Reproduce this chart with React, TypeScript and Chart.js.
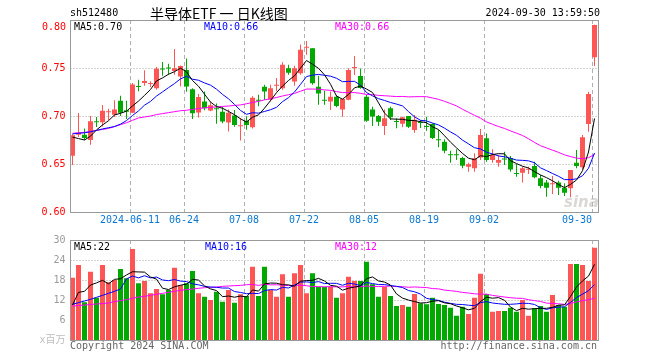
import React, { useEffect, useRef } from 'react';
import { Chart, registerables } from 'chart.js';
Chart.register(...registerables);

const dates = [
  '2024-05-27','2024-05-28','2024-05-29','2024-05-30','2024-05-31','2024-06-03','2024-06-04','2024-06-05','2024-06-06','2024-06-07',
  '2024-06-11','2024-06-12','2024-06-13','2024-06-14','2024-06-17','2024-06-18','2024-06-19','2024-06-20','2024-06-21','2024-06-24',
  '2024-06-25','2024-06-26','2024-06-27','2024-06-28','2024-07-01','2024-07-02','2024-07-03','2024-07-04','2024-07-05','2024-07-08',
  '2024-07-09','2024-07-10','2024-07-11','2024-07-12','2024-07-15','2024-07-16','2024-07-17','2024-07-18','2024-07-19','2024-07-22',
  '2024-07-23','2024-07-24','2024-07-25','2024-07-26','2024-07-29','2024-07-30','2024-07-31','2024-08-01','2024-08-02','2024-08-05',
  '2024-08-06','2024-08-07','2024-08-08','2024-08-09','2024-08-12','2024-08-13','2024-08-14','2024-08-15','2024-08-16','2024-08-19',
  '2024-08-20','2024-08-21','2024-08-22','2024-08-23','2024-08-26','2024-08-27','2024-08-28','2024-08-29','2024-08-30','2024-09-02',
  '2024-09-03','2024-09-04','2024-09-05','2024-09-06','2024-09-09','2024-09-10','2024-09-11','2024-09-12','2024-09-13','2024-09-18',
  '2024-09-19','2024-09-20','2024-09-23','2024-09-24','2024-09-25','2024-09-26','2024-09-27','2024-09-30'
];

const opens = [
  0.6585,0.6805,0.6805,0.6750,0.6945,0.6935,0.7040,0.7012,0.7158,0.7060,
  0.7035,0.7312,0.7345,0.7333,0.7290,0.7494,0.7505,0.7468,0.7412,0.7480,
  0.7278,0.7036,0.7150,0.7058,0.7080,0.7045,0.6932,0.7005,0.6892,0.6951,
  0.6884,0.7167,0.7304,0.7172,0.7316,0.7290,0.7498,0.7360,0.7446,0.7710,
  0.7706,0.7304,0.7166,0.7150,0.7201,0.7068,0.7170,0.7500,0.7417,0.7201,
  0.7069,0.7000,0.6896,0.7080,0.6944,0.6918,0.7000,0.6854,0.6934,0.6892,
  0.6917,0.6754,0.6733,0.6597,0.6597,0.6562,0.6472,0.6455,0.6569,0.6767,
  0.6542,0.6514,0.6552,0.6559,0.6398,0.6410,0.6441,0.6479,0.6351,0.6306,
  0.6288,0.6306,0.6253,0.6247,0.6514,0.6465,0.6917,0.7611
];
const closes = [
  0.6800,0.6825,0.6770,0.6945,0.6935,0.7055,0.7050,0.7068,0.7033,0.7045,
  0.7328,0.7302,0.7365,0.7340,0.7492,0.7484,0.7494,0.7498,0.7522,0.7306,
  0.7028,0.7198,0.7082,0.7112,0.7070,0.6942,0.7035,0.6907,0.6898,0.6905,
  0.7190,0.7160,0.7255,0.7290,0.7322,0.7533,0.7450,0.7498,0.7690,0.7718,
  0.7342,0.7234,0.7160,0.7201,0.7104,0.7176,0.7479,0.7508,0.7292,0.6950,
  0.6996,0.6940,0.6976,0.6986,0.6938,0.6986,0.6889,0.6962,0.6928,0.6886,
  0.6772,0.6748,0.6639,0.6592,0.6590,0.6483,0.6498,0.6559,0.6802,0.6542,
  0.6594,0.6542,0.6548,0.6444,0.6396,0.6455,0.6448,0.6361,0.6271,0.6253,
  0.6294,0.6253,0.6201,0.6438,0.6479,0.6778,0.7229,0.7948
];
const highs = [
  0.6810,0.7030,0.6870,0.7000,0.6990,0.7115,0.7075,0.7165,0.7210,0.7160,
  0.7344,0.7378,0.7476,0.7362,0.7510,0.7563,0.7545,0.7698,0.7525,0.7600,
  0.7290,0.7228,0.7255,0.7149,0.7130,0.7097,0.7068,0.7063,0.6980,0.6997,
  0.7205,0.7222,0.7326,0.7326,0.7396,0.7559,0.7535,0.7524,0.7745,0.7780,
  0.7706,0.7420,0.7264,0.7254,0.7215,0.7180,0.7497,0.7625,0.7494,0.7220,
  0.7097,0.7010,0.7069,0.7097,0.6976,0.6993,0.7000,0.7010,0.6958,0.6993,
  0.6924,0.6854,0.6757,0.6639,0.6653,0.6576,0.6514,0.6611,0.6865,0.6819,
  0.6653,0.6594,0.6628,0.6583,0.6500,0.6472,0.6472,0.6524,0.6385,0.6333,
  0.6375,0.6326,0.6299,0.6438,0.6646,0.6802,0.7253,0.7950
];
const lows = [
  0.6490,0.6780,0.6750,0.6700,0.6885,0.6890,0.6955,0.6990,0.7000,0.6970,
  0.7030,0.7257,0.7315,0.7302,0.7274,0.7420,0.7430,0.7430,0.7306,0.7253,
  0.6969,0.6985,0.7060,0.7050,0.6918,0.6924,0.6838,0.6889,0.6745,0.6858,
  0.6870,0.7101,0.7170,0.7150,0.7257,0.7274,0.7430,0.7316,0.7430,0.7637,
  0.7325,0.7118,0.7116,0.7063,0.7090,0.6993,0.7165,0.7427,0.7285,0.6940,
  0.6896,0.6896,0.6802,0.6958,0.6872,0.6882,0.6875,0.6826,0.6875,0.6847,
  0.6760,0.6674,0.6611,0.6514,0.6542,0.6455,0.6420,0.6420,0.6542,0.6524,
  0.6514,0.6472,0.6490,0.6420,0.6368,0.6306,0.6396,0.6351,0.6247,0.6160,
  0.6187,0.6177,0.6167,0.6153,0.6455,0.6444,0.6837,0.7521
];
// volume, in millions
const volumes = [
  18.7,22.5,11.3,20.5,12.7,22.5,17.3,18.0,21.3,18.5,
  27.3,17.0,17.7,14.0,15.3,13.7,15.0,21.7,16.5,17.0,
  20.7,14.0,13.0,12.0,14.5,11.5,15.0,11.2,13.7,13.2,
  22.0,13.2,22.0,15.0,13.0,19.7,13.0,20.0,22.5,14.0,
  20.0,16.0,16.0,16.0,12.7,14.0,19.0,17.7,17.7,23.5,
  16.7,13.0,16.0,13.2,10.2,10.5,10.0,13.8,11.0,10.7,
  12.7,10.8,10.5,9.7,7.3,10.0,7.8,12.7,19.9,13.8,
  8.5,8.7,8.7,9.7,8.5,12.0,7.3,9.5,10.2,8.5,
  13.5,10.5,10.0,22.8,22.8,22.5,17.7,27.7
];

// moving-average values at the left edge (history before the window)
const ma5Head = [0.678, 0.6765, 0.675, 0.679];
const ma10Head = [0.6813, 0.682, 0.6825, 0.6835, 0.685, 0.6865, 0.6878, 0.689, 0.6915];
const ma30Head = [
  0.682, 0.6825, 0.683, 0.684, 0.685, 0.686, 0.687, 0.689, 0.691, 0.693,
  0.6955, 0.698, 0.699, 0.700, 0.7015, 0.7025, 0.7035, 0.7045, 0.7055, 0.706,
  0.7068, 0.7078, 0.7085, 0.709, 0.7095, 0.710, 0.7104, 0.711, 0.7115
];
const vma5Head = [10.5, 14.3, 14.6, 16.5];
const vma10Head = [10.7, 11.2, 11.7, 12.2, 12.8, 13.4, 14.0, 14.6, 15.3];
const vma30Head = [
  10.2, 10.35, 10.5, 10.65, 10.8, 10.95, 11.1, 11.5, 11.8, 12.1,
  12.5, 12.9, 13.1, 13.4, 13.7, 14.0, 14.3, 14.6, 14.9, 15.1,
  15.3, 15.5, 15.7, 15.8, 15.9, 16.1, 16.2, 16.3, 16.4
];

const priceTicks = [0.6, 0.65, 0.7, 0.75, 0.8];
const priceGrid = [0.65, 0.7, 0.75];
const volumeTicks = [0, 6, 12, 18, 24, 30];
const volumeGrid = [6, 12, 18, 24];
const gridDates = ['2024-06-11','2024-06-24','2024-07-08','2024-07-22','2024-08-05','2024-08-19','2024-09-02','2024-09-30'];
const gridDateLabels = ['2024-06-11','06-24','07-08','07-22','08-05','08-19','09-02','09-30'];
const priceLegend = ['MA5:0.70', 'MA10:0.66', 'MA30:0.66'];
const volumeLegend = ['MA5:22', 'MA10:16', 'MA30:12'];

const RED = '#ff5555';
const GREEN = '#00a800';
const MONO = '"DejaVu Sans Mono", monospace';

function movingAverage(values: number[], n: number, head: number[]) {
  return values.map((_, i) => {
    if (i < n - 1) return head[i];
    let s = 0;
    for (let k = i - n + 1; k <= i; k++) s += values[k];
    return s / n;
  });
}

const framePlugin = {
  id: 'frame',
  beforeDatasetsDraw(chart: any, _a: any, opts: any) {
    const { ctx, chartArea: a } = chart;
    const xs = chart.scales.x;
    const ys = chart.scales.y;
    ctx.save();
    ctx.lineWidth = 1;
    ctx.strokeStyle = '#a8a8a8';
    ctx.setLineDash([1, 2]);
    for (const v of opts.hLines) {
      const y = Math.round(ys.getPixelForValue(v)) + 0.5;
      ctx.beginPath();
      ctx.moveTo(a.left + 1, y);
      ctx.lineTo(a.right, y);
      ctx.stroke();
    }
    ctx.setLineDash([4, 3]);
    ctx.strokeStyle = '#b0b0b0';
    for (const d of gridDates) {
      const i = dates.indexOf(d);
      const x = Math.round(xs.getPixelForValue(i) - 2.5) + 0.5;
      ctx.beginPath();
      ctx.moveTo(x, a.top);
      ctx.lineTo(x, a.bottom);
      ctx.stroke();
    }
    ctx.restore();
  },
  afterDraw(chart: any, _a: any, opts: any) {
    const { ctx, chartArea: a } = chart;
    const xs = chart.scales.x;
    ctx.save();
    ctx.setLineDash([]);
    ctx.lineWidth = 1;
    ctx.strokeStyle = '#9a9a9a';
    ctx.strokeRect(a.left + 1, a.top + 0.5, a.right - a.left, a.bottom - a.top);
    if (opts.xLabels) {
      ctx.font = '10px ' + MONO;
      ctx.fillStyle = '#0a78d2';
      ctx.textBaseline = 'middle';
      gridDates.forEach((d, k) => {
        const i = dates.indexOf(d);
        const x = Math.round(xs.getPixelForValue(i) - 2.5);
        const last = k === gridDates.length - 1;
        ctx.textAlign = last ? 'right' : 'center';
        ctx.fillText(gridDateLabels[k], x, a.bottom + 8);
      });
    }
    ctx.restore();
  }
};

const colors = closes.map((c, i) => (c >= opens[i] ? RED : GREEN));

function baseOptions(padTop: number, padBottom: number) {
  return {
    animation: false as const,
    responsive: false,
    events: [] as any[],
    layout: { padding: { left: 0, right: 62.5, top: padTop, bottom: padBottom } },
  };
}

function priceConfig(): any {
  const ma5 = movingAverage(closes, 5, ma5Head);
  const ma10 = movingAverage(closes, 10, ma10Head);
  const ma30 = movingAverage(closes, 30, ma30Head);
  const wicks = lows.map((l, i) => [l, highs[i]]);
  const bodies = opens.map((o, i) => [Math.min(o, closes[i]), Math.max(o, closes[i])]);
  const line = (data: number[], color: string) => ({
    type: 'line', data, borderColor: color, borderWidth: 1, pointRadius: 0, tension: 0, order: 0,
  });
  return {
    type: 'bar',
    data: {
      labels: dates,
      datasets: [
        line(ma5, '#000000'),
        line(ma10, '#0000ff'),
        line(ma30, '#ff00ff'),
        { type: 'bar', data: wicks, backgroundColor: colors, barThickness: 1, grouped: false, inflateAmount: 0, order: 2 },
        { type: 'bar', data: bodies, backgroundColor: colors, barThickness: 5, grouped: false, inflateAmount: 0, minBarLength: 1, order: 1 },
      ],
    },
    options: {
      ...baseOptions(20, 148),
      plugins: { legend: { display: false }, tooltip: { enabled: false }, frame: { hLines: priceGrid, xLabels: true } },
      scales: {
        x: { display: false, offset: true },
        y: {
          min: 0.6, max: 0.8,
          afterBuildTicks: (s: any) => { s.ticks = priceTicks.map((v) => ({ value: v })); },
          afterFit: (s: any) => { s.width = 69.5; },
          grid: { display: false, drawTicks: false },
          border: { display: false },
          ticks: {
            color: '#ff0000', padding: 4, font: { family: MONO, size: 10 },
            callback: (v: number) => (Math.abs(v - 0.8) < 1e-6 ? '' : v.toFixed(2)),
          },
        },
      },
    },
    plugins: [framePlugin],
  };
}

function volumeConfig(): any {
  const v5 = movingAverage(volumes, 5, vma5Head);
  const v10 = movingAverage(volumes, 10, vma10Head);
  const v30 = movingAverage(volumes, 30, vma30Head);
  const line = (data: number[], color: string) => ({
    type: 'line', data, borderColor: color, borderWidth: 1, pointRadius: 0, tension: 0, order: 0,
  });
  return {
    type: 'bar',
    data: {
      labels: dates,
      datasets: [
        line(v5, '#000000'),
        line(v10, '#0000ff'),
        line(v30, '#ff00ff'),
        { type: 'bar', data: volumes, backgroundColor: colors, barThickness: 5, grouped: false, inflateAmount: 0, order: 1 },
      ],
    },
    options: {
      ...baseOptions(240, 20),
      plugins: { legend: { display: false }, tooltip: { enabled: false }, frame: { hLines: volumeGrid, xLabels: false } },
      scales: {
        x: { display: false, offset: true },
        y: {
          min: 0, max: 30,
          afterBuildTicks: (s: any) => { s.ticks = volumeTicks.map((v) => ({ value: v })); },
          afterFit: (s: any) => { s.width = 69.5; },
          grid: { display: false, drawTicks: false },
          border: { display: false },
          ticks: {
            padding: 4,
            font: { family: '"DejaVu Sans Mono", "Noto Sans CJK SC", monospace', size: 10 },
            color: (c: any) => (c.tick && c.tick.value === 0 ? '#bdbdbd' : '#9a9a9a'),
            callback: (v: number) => (v === 0 ? 'x百万' : String(v)),
          },
        },
      },
    },
    plugins: [framePlugin],
  };
}

function Txt(p: { x: number; y: number; text: string; color?: string; right?: boolean; size?: number; family?: string; style?: any }) {
  const size = p.size ?? 10;
  const lh = size + 4;
  const st: any = {
    position: 'absolute', top: p.y - lh / 2, lineHeight: lh + 'px', fontSize: size,
    fontFamily: p.family ?? MONO, color: p.color ?? '#000', whiteSpace: 'pre', ...p.style,
  };
  if (p.right) st.right = 660 - p.x; else st.left = p.x;
  return <span style={st}>{p.text}</span>;
}

export default function App() {
  const c1 = useRef<HTMLCanvasElement>(null);
  const c2 = useRef<HTMLCanvasElement>(null);
  useEffect(() => {
    const a = new Chart(c1.current as HTMLCanvasElement, priceConfig());
    const b = new Chart(c2.current as HTMLCanvasElement, volumeConfig());
    return () => { a.destroy(); b.destroy(); };
  }, []);
  const cv: any = { position: 'absolute', left: 0, top: 0, width: 660, height: 360 };
  return (
    <div style={{ position: 'absolute', left: 0, top: 0, width: 660, height: 360, background: '#fff', overflow: 'hidden' }}>
      <canvas ref={c1} width={660} height={360} style={cv} />
      <canvas ref={c2} width={660} height={360} style={cv} />
      <Txt x={70} y={13} text="sh512480" />
      <Txt x={150} y={13} text="半导体ETF 一 日K线图" size={14} family='"Noto Sans CJK SC", sans-serif' />
      <Txt x={600} y={13} text="2024-09-30 13:59:50" right />
      <Txt x={66} y={27} text="0.80" color="#ff0000" right />
      <Txt x={74} y={26.5} text={priceLegend[0]} color="#000" />
      <Txt x={204} y={26.5} text={priceLegend[1]} color="#0000ff" />
      <Txt x={335} y={26.5} text={priceLegend[2]} color="#ff00ff" />
      <Txt x={74} y={246.5} text={volumeLegend[0]} color="#000" />
      <Txt x={205} y={246.5} text={volumeLegend[1]} color="#0000ff" />
      <Txt x={335} y={246.5} text={volumeLegend[2]} color="#ff00ff" />
      <Txt x={70} y={346} text="Copyright 2024 SINA.COM" color="#666" />
      <Txt x={597} y={346} text="http://finance.sina.com.cn" color="#666" right />
      <Txt x={564} y={202} text="sina" size={15} color="rgba(185,175,175,0.5)" family='"DejaVu Sans", sans-serif' style={{ fontStyle: 'italic', fontWeight: 'bold' }} />
    </div>
  );
}
